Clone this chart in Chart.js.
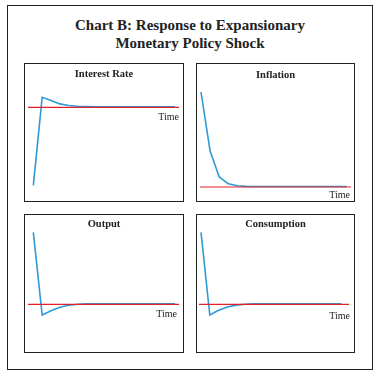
<!DOCTYPE html>
<html>
  <head>
    <title>Chart B: Response to Expansionary Monetary Policy Shock</title>
    <meta charset="UTF-8" />
    <script src="https://cdn.jsdelivr.net/npm/chart.js"></script>
    <style>
      body { margin: 0; background: #fff; }
      #page { position: relative; width: 379px; height: 376px; font-family: "Liberation Serif", serif; color: #222; }
      .frame { position: absolute; left: 7px; top: 5px; width: 366px; height: 365px; border: 1px solid #222; box-sizing: border-box; }
      .title { position: absolute; left: 7px; width: 366px; top: 16px; text-align: center; font-weight: bold; font-size: 15px; line-height: 18px; }
      .panel { position: absolute; border: 1px solid #222; box-sizing: border-box; }
      .ptitle { position: absolute; font-weight: bold; font-size: 10.5px; text-align: center; line-height: 10px; }
      .time { position: absolute; font-size: 10px; line-height: 10px; text-align: right; width: 40px; }
      canvas { position: absolute; }
    </style>
  </head>

  <body>
    <div id="page">
      <div class="frame"></div>
      <div class="title">Chart B: Response to Expansionary<br />Monetary Policy Shock</div>
    </div>

    <script>
      // time periods after the shock
      const periods = [0, 1, 2, 3, 4, 5, 6, 7, 8, 9, 10, 11, 12, 13, 14, 15, 16];

      // impulse responses (deviation from steady state)
      const interestRate = [-0.78, 0.10, 0.068, 0.034, 0.018, 0.011, 0.008, 0.006, 0.006, 0.006, 0.006, 0.006, 0.006, 0.006, 0.006, 0.006, 0.006];
      const inflation = [0.95, 0.36, 0.10, 0.032, 0.012, 0.006, 0.005, 0.005, 0.005, 0.005, 0.005, 0.005, 0.005, 0.005, 0.005, 0.005, 0.005];
      const output = [0.72, -0.107, -0.065, -0.03, -0.01, 0, 0.004, 0.005, 0.006, 0.006, 0.006, 0.006, 0.006, 0.006, 0.006, 0.006, 0.006];
      const consumption = [0.72, -0.107, -0.06, -0.026, -0.008, 0.001, 0.004, 0.005, 0.006, 0.006, 0.006, 0.006, 0.006, 0.006, 0.006, 0.006, 0.006];

      const panelTitles = ["Interest Rate", "Inflation", "Output", "Consumption"];
      const axisLabel = "Time";

      // layout of the four boxes
      const panels = [
        { title: panelTitles[0], values: interestRate, box: [24, 63, 160, 139], plot: [28, 64, 151, 136], x: [-0.6, 16.45], y: [-0.927, 0.433], titleY: 69, timeAt: [179, 112] },
        { title: panelTitles[1], values: inflation, box: [196, 63, 159, 139], plot: [200, 64, 151, 136], x: [-0.11, 16.47], y: [-0.13, 1.23], titleY: 70, timeAt: [350, 190] },
        { title: panelTitles[2], values: output, box: [24, 214, 160, 139], plot: [28, 215, 151, 136], x: [-0.6, 16.45], y: [-0.467, 0.893], titleY: 219, timeAt: [177, 309] },
        { title: panelTitles[3], values: consumption, box: [196, 214, 159, 139], plot: [199, 215, 150, 136], x: [-0.23, 16.86], y: [-0.467, 0.893], titleY: 219, timeAt: [350, 311] }
      ];

      // red zero line across the plot area
      const zeroLine = {
        id: "zeroLine",
        afterDatasetsDraw(chart) {
          const ctx = chart.ctx;
          const y = chart.scales.y.getPixelForValue(0);
          ctx.save();
          ctx.strokeStyle = "#e3202a";
          ctx.lineWidth = 1.2;
          ctx.beginPath();
          ctx.moveTo(chart.chartArea.left, y);
          ctx.lineTo(chart.chartArea.right, y);
          ctx.stroke();
          ctx.restore();
        }
      };

      const page = document.getElementById("page");

      panels.forEach((p, i) => {
        const box = document.createElement("div");
        box.className = "panel";
        box.style.left = p.box[0] + "px";
        box.style.top = p.box[1] + "px";
        box.style.width = p.box[2] + "px";
        box.style.height = p.box[3] + "px";
        page.appendChild(box);

        const cv = document.createElement("canvas");
        cv.id = "chart" + i;
        cv.width = p.plot[2];
        cv.height = p.plot[3];
        cv.style.left = p.plot[0] + "px";
        cv.style.top = p.plot[1] + "px";
        page.appendChild(cv);

        const t = document.createElement("div");
        t.className = "ptitle";
        t.textContent = p.title;
        t.style.left = p.box[0] + "px";
        t.style.width = p.box[2] + "px";
        t.style.top = p.titleY + "px";
        page.appendChild(t);

        const tm = document.createElement("div");
        tm.className = "time";
        tm.textContent = axisLabel;
        tm.style.left = (p.timeAt[0] - 40) + "px";
        tm.style.top = p.timeAt[1] + "px";
        page.appendChild(tm);

        new Chart(cv.getContext("2d"), {
          type: "line",
          data: {
            datasets: [
              {
                data: periods.map((x, k) => ({ x: x, y: p.values[k] })),
                borderColor: "#2f9bd6",
                borderWidth: 1.6,
                pointRadius: 0,
                tension: 0,
                fill: false
              }
            ]
          },
          options: {
            responsive: false,
            animation: false,
            devicePixelRatio: 1,
            layout: { padding: 0 },
            plugins: { legend: { display: false }, tooltip: { enabled: false } },
            scales: {
              x: { type: "linear", display: false, min: p.x[0], max: p.x[1] },
              y: { type: "linear", display: false, min: p.y[0], max: p.y[1] }
            }
          },
          plugins: [zeroLine]
        });
      });
    </script>
  </body>
</html>
